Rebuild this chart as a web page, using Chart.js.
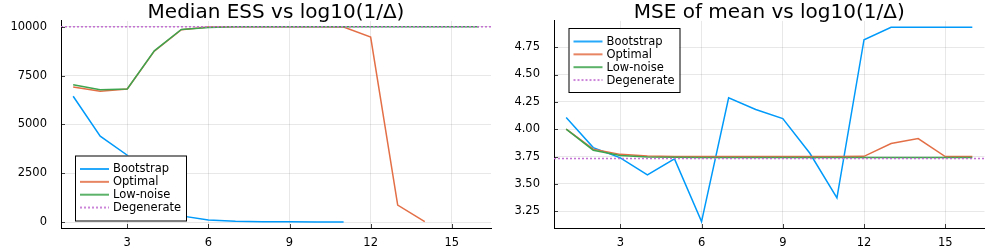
<!DOCTYPE html>
<html lang="en">
<head>
<meta charset="UTF-8" />
<title>ESS and MSE vs log10(1/Δ)</title>
<script src="https://cdn.jsdelivr.net/npm/chart.js@4.4.1/dist/chart.umd.min.js"></script>
<style>
    body { margin: 0; background: #fff; }
    .panel { position: absolute; top: 0; width: 498px; height: 249px; }
    #left { left: 0; }
    #right { left: 498px; }
</style>
</head>
<body>
<div class="panel" id="left"><canvas id="essChart" width="498" height="249"></canvas></div>
<div class="panel" id="right"><canvas id="mseChart" width="498" height="249"></canvas></div>

<script>
// ---- data ----
const seriesNames = ['Bootstrap', 'Optimal', 'Low-noise', 'Degenerate'];
const xTicks = [3, 6, 9, 12, 15];
const X_MIN = 0.55, X_MAX = 16.45;

// Median ESS, x = 1, 2, 3, ...
const essBootstrap = [6441, 4402, 3426, 1500, 320, 115, 50, 25, 14, 8, 5];
const essOptimal   = [6919, 6698, 6816, 8750, 9850, 9985, 9995, 10000, 10000, 10000, 9990, 9472, 873, 30];
const essLowNoise  = [7037, 6780, 6816, 8768, 9862, 9965, 10000, 10000, 10000, 10000, 10000, 10000, 10000, 10000, 10000, 10000];
const essDegenerate = 10000;
const essTicks = [0, 2500, 5000, 7500, 10000];

// MSE of mean
const mseBootstrap = [4.106, 3.832, 3.738, 3.582, 3.729, 3.156, 4.287, 4.18, 4.097, 3.78, 3.372, 4.818, 4.932, 4.932, 4.932, 4.932];
const mseOptimal   = [4.0, 3.818, 3.77, 3.754, 3.751, 3.75, 3.75, 3.75, 3.75, 3.75, 3.75, 3.752, 3.869, 3.914, 3.75, 3.75];
const mseLowNoise  = [4.0, 3.808, 3.759, 3.746, 3.743, 3.742, 3.742, 3.742, 3.742, 3.742, 3.742, 3.742, 3.742, 3.742, 3.742, 3.742];
const mseDegenerate = 3.732;
const mseTicks = [3.25, 3.5, 3.75, 4.0, 4.25, 4.5, 4.75];

const colors = ['#009AFA', '#E36F47', '#3EA44E', '#C371D2'];

Chart.defaults.font.family = "'DejaVu Sans', sans-serif";
Chart.defaults.color = '#000';

function toPoints(ys) {
    return ys.map((y, i) => ({ x: i + 1, y: y }));
}

function makeDatasets(boot, opt, low, degen) {
    const lists = [toPoints(boot), toPoints(opt), toPoints(low),
                   [{ x: X_MIN, y: degen }, { x: X_MAX, y: degen }]];
    return lists.map((pts, i) => ({
        label: seriesNames[i],
        data: pts,
        order: 3 - i,   // later series on top, like Plots.jl
        borderColor: colors[i],
        backgroundColor: colors[i],
        borderWidth: 1.5,
        borderDash: i == 3 ? [2, 2] : [],
        pointRadius: 0,
        tension: 0,
        fill: false
    }));
}

// title, inward ticks and the boxed legend, drawn the way Plots.jl does
const plotsDecor = {
    id: 'plotsDecor',
    afterDraw(chart, args, opts) {
        const ctx = chart.ctx;
        const area = chart.chartArea;
        ctx.save();

        // inward tick marks
        ctx.strokeStyle = 'rgba(0,0,0,0.75)';
        ctx.lineWidth = 1;
        ctx.beginPath();
        chart.scales.y.ticks.forEach(t => {
            const py = Math.round(chart.scales.y.getPixelForValue(t.value)) + 0.5;
            ctx.moveTo(area.left, py);
            ctx.lineTo(area.left + 4, py);
        });
        chart.scales.x.ticks.forEach(t => {
            const px = Math.round(chart.scales.x.getPixelForValue(t.value)) + 0.5;
            ctx.moveTo(px, area.bottom);
            ctx.lineTo(px, area.bottom - 4);
        });
        ctx.stroke();

        // title
        ctx.fillStyle = '#000';
        ctx.font = "20px 'DejaVu Sans'";
        ctx.textAlign = 'center';
        ctx.textBaseline = 'alphabetic';
        ctx.fillText(opts.title, (area.left + area.right) / 2, 17.5);

        // legend
        const b = opts.box;
        ctx.fillStyle = '#fff';
        ctx.fillRect(b.x, b.y, b.w, b.h);
        ctx.strokeStyle = '#000';
        ctx.lineWidth = 1;
        ctx.strokeRect(b.x + 0.5, b.y + 0.5, b.w, b.h);
        ctx.font = "11.5px 'DejaVu Sans'";
        ctx.textAlign = 'left';
        ctx.textBaseline = 'middle';
        chart.data.datasets.forEach((ds, i) => {
            const ry = b.y + 13.5 + i * 12.85;
            ctx.strokeStyle = ds.borderColor;
            ctx.lineWidth = 2;
            ctx.globalAlpha = 0.85;
            ctx.setLineDash(ds.borderDash || []);
            ctx.beginPath();
            ctx.moveTo(b.x + 5, ry);
            ctx.lineTo(b.x + 34, ry);
            ctx.stroke();
            ctx.setLineDash([]);
            ctx.globalAlpha = 1;
            ctx.fillStyle = '#000';
            ctx.fillText(ds.label, b.x + 38, ry + 0.5);
        });
        ctx.restore();
    }
};

function makeChart(canvasId, datasets, yMin, yMax, yTicks, yLabelFmt, yWidth, padRight, title, box) {
    return new Chart(document.getElementById(canvasId), {
        type: 'line',
        data: { datasets: datasets },
        options: {
            responsive: false,
            animation: false,
            devicePixelRatio: 1,
            layout: { padding: { top: 20, right: padRight, left: 0, bottom: 0 } },
            plugins: {
                legend: { display: false },
                title: { display: false },
                tooltip: { enabled: false },
                plotsDecor: { title: title, box: box }
            },
            scales: {
                x: {
                    type: 'linear',
                    min: X_MIN,
                    max: X_MAX,
                    afterBuildTicks: s => { s.ticks = xTicks.map(v => ({ value: v })); },
                    afterFit: s => { s.height = 21; },
                    grid: { color: 'rgba(0,0,0,0.09)', drawTicks: false },
                    border: { color: '#000', width: 1 },
                    ticks: { padding: 8, font: { size: 11.5 }, maxRotation: 0 }
                },
                y: {
                    type: 'linear',
                    min: yMin,
                    max: yMax,
                    afterBuildTicks: s => { s.ticks = yTicks.map(v => ({ value: v })); },
                    afterFit: s => { s.width = yWidth; },
                    grid: { color: 'rgba(0,0,0,0.09)', drawTicks: false },
                    border: { color: '#000', width: 1 },
                    ticks: { padding: 14, font: { size: 11.5 }, callback: yLabelFmt }
                }
            }
        },
        plugins: [plotsDecor]
    });
}

makeChart('essChart',
    makeDatasets(essBootstrap, essOptimal, essLowNoise, essDegenerate),
    -300, 10300, essTicks, v => String(v), 61, 7,
    'Median ESS vs log10(1/Δ)',
    { x: 75, y: 155.5, w: 111, h: 65 });

makeChart('mseChart',
    makeDatasets(mseBootstrap, mseOptimal, mseLowNoise, mseDegenerate),
    3.097, 4.99, mseTicks, v => v.toFixed(2), 56, 11.5,
    'MSE of mean vs log10(1/Δ)',
    { x: 70.5, y: 28, w: 111, h: 64 });
</script>
</body>
</html>
